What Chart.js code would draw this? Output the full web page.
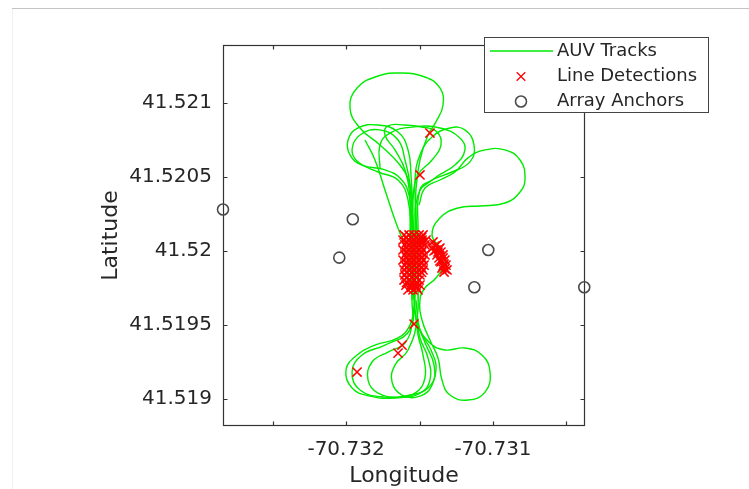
<!DOCTYPE html>
<html><head><meta charset="utf-8">
<script src="https://cdn.jsdelivr.net/npm/chart.js@4.4.1/dist/chart.umd.min.js"></script>
<style>html,body{margin:0;padding:0;background:#fff;}canvas{display:block;}</style>
</head><body>
<canvas id="c" width="749" height="489"></canvas>
<script>
// ---- axis ranges and ticks ----
const xMin = -70.732837, xMax = -70.730374;
const yMin = 41.518818, yMax = 41.521389;
const xTickValues = [-70.7325, -70.732, -70.7315, -70.731, -70.7305];
const xTickLabels = ['', '-70.732', '', '-70.731', ''];
const yTickValues = [41.519, 41.5195, 41.52, 41.5205, 41.521];
const yTickLabels = ['41.519', '41.5195', '41.52', '41.5205', '41.521'];
const xTitle = 'Longitude';
const yTitle = 'Latitude';
const legendLabels = ['AUV Tracks', 'Line Detections', 'Array Anchors'];

// ---- AUV tracks ----
const track1Lon = [-70.731544,-70.731544,-70.731551,-70.731565,-70.731633,-70.731769,-70.731905,-70.731973,-70.731925,-70.731782,-70.731633,-70.731463,-70.731361,-70.731340,-70.731388,-70.731442,-70.731497,-70.731524,-70.731531,-70.731531,-70.731537,-70.731565,-70.731646,-70.731803,-70.731925,-70.732000,-70.731959,-70.731837,-70.731667,-70.731531,-70.731463,-70.731476,-70.731510,-70.731531];
const track1Lat = [41.519736,41.520006,41.520276,41.520444,41.520579,41.520714,41.520829,41.520964,41.521099,41.521180,41.521200,41.521173,41.521099,41.520984,41.520870,41.520782,41.520613,41.520411,41.520141,41.519871,41.519634,41.519499,41.519412,41.519364,41.519297,41.519196,41.519074,41.519020,41.519007,41.519040,41.519142,41.519297,41.519432,41.519601];
const track2Lon = [-70.731551,-70.731551,-70.731558,-70.731571,-70.731633,-70.731735,-70.731891,-70.731973,-70.731986,-70.731918,-70.731782,-70.731646,-70.731578,-70.731558,-70.731544,-70.731537,-70.731531,-70.731544,-70.731599,-70.731714,-70.731823,-70.731850,-70.731782,-70.731633,-70.731497,-70.731429,-70.731442,-70.731497,-70.731517];
const track2Lat = [41.519668,41.519938,41.520208,41.520377,41.520492,41.520546,41.520579,41.520647,41.520748,41.520829,41.520849,41.520802,41.520681,41.520512,41.520242,41.519938,41.519668,41.519533,41.519378,41.519317,41.519250,41.519128,41.519040,41.519013,41.519040,41.519128,41.519277,41.519412,41.519547];
const track3Lon = [-70.731510,-70.731517,-70.731524,-70.731531,-70.731497,-70.731415,-70.731293,-70.731191,-70.731129,-70.731157,-70.731279,-70.731415,-70.731497,-70.731510,-70.731510,-70.731517,-70.731578,-70.731667,-70.731687,-70.731619,-70.731497,-70.731415,-70.731401,-70.731456,-70.731503];
const track3Lat = [41.519668,41.520006,41.520276,41.520478,41.520647,41.520768,41.520829,41.520816,41.520714,41.520600,41.520532,41.520478,41.520411,41.520141,41.519803,41.519533,41.519331,41.519229,41.519115,41.519027,41.519020,41.519094,41.519229,41.519364,41.519479];
const track4Lon = [-70.731565,-70.731565,-70.731599,-70.731667,-70.731735,-70.731714,-70.731599,-70.731483,-70.731381,-70.731354,-70.731415,-70.731510,-70.731544,-70.731551,-70.731551,-70.731565,-70.731735,-70.731891,-70.731959,-70.731905,-70.731735,-70.731565,-70.731442,-70.731388,-70.731422,-70.731497,-70.731524];
const track4Lat = [41.520073,41.520343,41.520546,41.520681,41.520782,41.520843,41.520849,41.520836,41.520802,41.520714,41.520613,41.520512,41.520343,41.520006,41.519668,41.519466,41.519364,41.519297,41.519182,41.519061,41.519013,41.519027,41.519074,41.519196,41.519331,41.519466,41.519668];
const track5Lon = [-70.731871,-70.731803,-70.731735,-70.731667,-70.731605,-70.731565,-70.731537,-70.731510,-70.731429,-70.731327,-70.731191,-70.731075,-70.731020,-70.731054,-70.731170,-70.731293,-70.731347,-70.731374,-70.731429,-70.731483,-70.731497,-70.731463,-70.731388,-70.731327,-70.731361,-70.731415,-70.731361,-70.731238,-70.731088,-70.730918,-70.730816,-70.730782,-70.730816,-70.730918,-70.731054,-70.731170,-70.731259,-70.731361,-70.731463,-70.731503];
const track5Lat = [41.520748,41.520613,41.520411,41.520208,41.520040,41.519871,41.519668,41.519499,41.519378,41.519331,41.519344,41.519297,41.519182,41.519047,41.518993,41.519027,41.519128,41.519277,41.519398,41.519533,41.519668,41.519749,41.519817,41.519925,41.520019,41.520107,41.520222,41.520289,41.520303,41.520323,41.520397,41.520492,41.520613,41.520681,41.520681,41.520627,41.520532,41.520478,41.520424,41.520310];
const track6Lon = [-70.731558,-70.731578,-70.731646,-70.731782,-70.731918,-70.731959,-70.731905,-70.731769,-70.731646,-70.731599,-70.731565,-70.731551];
const track6Lat = [41.520107,41.520343,41.520478,41.520532,41.520600,41.520681,41.520782,41.520816,41.520748,41.520613,41.520444,41.520107];
const track7Lon = [-70.731769,-70.731769,-70.731701,-70.731544,-70.731361,-70.731225,-70.731191,-70.731259,-70.731395,-70.731510,-70.731524];
const track7Lat = [41.520559,41.520714,41.520795,41.520836,41.520829,41.520762,41.520681,41.520579,41.520492,41.520377,41.520073];

// ---- line detections ----
const isoDetLon = [-70.731429,-70.731497,-70.731537,-70.731619,-70.731646,-70.731925];
const isoDetLat = [41.520795,41.520512,41.519506,41.519364,41.519310,41.519182];
const mainDetLon = [
 -70.731605,-70.731571,-70.731537,-70.731503,-70.731476,
 -70.731612,-70.731578,-70.731544,-70.731510,-70.731483,-70.731456,
 -70.731599,-70.731565,-70.731531,-70.731497,-70.731463,
 -70.731612,-70.731578,-70.731544,-70.731510,-70.731476,
 -70.731599,-70.731565,-70.731531,-70.731497,-70.731463,
 -70.731612,-70.731578,-70.731544,-70.731510,-70.731476,
 -70.731599,-70.731565,-70.731531,-70.731497,-70.731469,
 -70.731605,-70.731571,-70.731537,-70.731503,-70.731476,
 -70.731599,-70.731565,-70.731531,-70.731497,
 -70.731605,-70.731571,-70.731537,-70.731503,
 -70.731592,-70.731558,-70.731524,-70.731497,
 -70.731578,-70.731544,-70.731510];
const mainDetLat = [
 41.520107,41.520107,41.520107,41.520107,41.520107,
 41.520073,41.520073,41.520073,41.520073,41.520073,41.520073,
 41.520040,41.520040,41.520040,41.520040,41.520040,
 41.520006,41.520006,41.520006,41.520006,41.520006,
 41.519972,41.519972,41.519972,41.519972,41.519972,
 41.519938,41.519938,41.519938,41.519938,41.519938,
 41.519904,41.519904,41.519904,41.519904,41.519904,
 41.519871,41.519871,41.519871,41.519871,41.519871,
 41.519837,41.519837,41.519837,41.519837,
 41.519803,41.519803,41.519803,41.519803,
 41.519769,41.519769,41.519769,41.519769,
 41.519736,41.519736,41.519736];
const fillDetLon = [
 -70.731588,-70.731554,-70.731520,-70.731486,
 -70.731588,-70.731554,-70.731520,-70.731486,
 -70.731588,-70.731554,-70.731520,-70.731486,
 -70.731588,-70.731554,-70.731520,-70.731486,
 -70.731588,-70.731554,-70.731520,-70.731486,
 -70.731588,-70.731554,-70.731520,-70.731486,
 -70.731588,-70.731554,-70.731520,-70.731486,
 -70.731588,-70.731554,-70.731520,-70.731486,
 -70.731588,-70.731554,-70.731520,
 -70.731588,-70.731554,-70.731520,
 -70.731554,-70.731520];
const fillDetLat = [
 41.520090,41.520090,41.520090,41.520090,
 41.520056,41.520056,41.520056,41.520056,
 41.520023,41.520023,41.520023,41.520023,
 41.519989,41.519989,41.519989,41.519989,
 41.519955,41.519955,41.519955,41.519955,
 41.519921,41.519921,41.519921,41.519921,
 41.519888,41.519888,41.519888,41.519888,
 41.519854,41.519854,41.519854,41.519854,
 41.519820,41.519820,41.519820,
 41.519786,41.519786,41.519786,
 41.519753,41.519753];
const sideDetLon = [-70.731408,-70.731381,-70.731415,-70.731361,-70.731388,-70.731354,-70.731381,-70.731340,-70.731367,-70.731327,-70.731354,-70.731320,-70.731347,-70.731313,-70.731333,
 -70.731395,-70.731367,-70.731401,-70.731374,-70.731340,-70.731361,-70.731333,-70.731340,-70.731327];
const sideDetLat = [41.520060,41.520040,41.520019,41.520019,41.520006,41.519992,41.519972,41.519972,41.519952,41.519938,41.519925,41.519904,41.519884,41.519871,41.519857,
 41.520033,41.520013,41.519999,41.519992,41.519952,41.519932,41.519911,41.519898,41.519878];

// ---- array anchors ----
const anchorLon = [-70.732837,-70.731954,-70.732046,-70.731032,-70.731127,-70.730379];
const anchorLat = [41.520279,41.520213,41.519954,41.520006,41.519754,41.519754];

// ---- styles ----
const GREEN = 'rgb(0,235,0)';
const RED = 'rgb(255,0,0)';
const GRAY = '#4a4a4a';
const TEXT = '#262626';
const FONT = 'DejaVu Sans';

function pts(lons, lats){ return lons.map((v,i)=>({x:v, y:lats[i]})); }

const tracks = [[track1Lon,track1Lat],[track2Lon,track2Lat],[track3Lon,track3Lat],[track4Lon,track4Lat],[track5Lon,track5Lat],[track6Lon,track6Lat],[track7Lon,track7Lat]];
const datasets = tracks.map(t => ({
  data: pts(t[0], t[1]), showLine: true, borderColor: GREEN, borderWidth: 1.4,
  pointRadius: 0, tension: 0.45, fill: false, order: 3
}));
datasets.push({
  data: pts(isoDetLon.concat(mainDetLon, fillDetLon, sideDetLon), isoDetLat.concat(mainDetLat, fillDetLat, sideDetLat)),
  showLine: false, pointStyle: 'crossRot', pointRadius: 6.5, borderColor: RED, borderWidth: 1.5,
  backgroundColor: RED, order: 2
});
datasets.push({
  data: pts(anchorLon, anchorLat), showLine: false, pointStyle: 'circle', pointRadius: 5.5,
  borderColor: GRAY, borderWidth: 1.6, backgroundColor: 'rgba(0,0,0,0)', order: 1, clip: false
});

const framePlugin = {
  id: 'frame',
  beforeDatasetsDraw(chart){
    const ctx = chart.ctx, a = chart.chartArea;
    const xs = chart.scales.x, ys = chart.scales.y;
    ctx.save();
    ctx.strokeStyle = '#333'; ctx.lineWidth = 1.2;
    ctx.strokeRect(Math.round(a.left)+0.5, Math.round(a.top)+0.5, Math.round(a.right-a.left)-1, Math.round(a.bottom-a.top)-1);
    ctx.beginPath();
    const tl = 4.5;
    xs.ticks.forEach(t => {
      const px = Math.round(xs.getPixelForValue(t.value))+0.5;
      ctx.moveTo(px, a.bottom); ctx.lineTo(px, a.bottom - tl);
      ctx.moveTo(px, a.top); ctx.lineTo(px, a.top + tl);
    });
    ys.ticks.forEach(t => {
      const py = Math.round(ys.getPixelForValue(t.value))+0.5;
      ctx.moveTo(a.left, py); ctx.lineTo(a.left + tl, py);
      ctx.moveTo(a.right, py); ctx.lineTo(a.right - tl, py);
    });
    ctx.stroke();
    ctx.restore();
  },
  afterDraw(chart){
    const ctx = chart.ctx;
    ctx.save();
    ctx.strokeStyle = '#c4c4c4'; ctx.lineWidth = 1;
    ctx.beginPath(); ctx.moveTo(12, 8.5); ctx.lineTo(749, 8.5); ctx.stroke();
    ctx.strokeStyle = '#f0f0f0';
    ctx.beginPath(); ctx.moveTo(12.5, 9); ctx.lineTo(12.5, 489); ctx.stroke();
    const bx = 484.5, by = 37.5, bw = 224, bh = 75;
    ctx.fillStyle = '#fff'; ctx.fillRect(bx, by, bw, bh);
    ctx.strokeStyle = '#444'; ctx.lineWidth = 1; ctx.strokeRect(bx, by, bw, bh);
    const rows = [51, 76.5, 101.5];
    ctx.strokeStyle = GREEN; ctx.lineWidth = 1.4;
    ctx.beginPath(); ctx.moveTo(490, rows[0]); ctx.lineTo(553, rows[0]); ctx.stroke();
    ctx.strokeStyle = RED; ctx.lineWidth = 1.3;
    const d = 4.3, cx = 521;
    ctx.beginPath();
    ctx.moveTo(cx-d, rows[1]-d); ctx.lineTo(cx+d, rows[1]+d);
    ctx.moveTo(cx-d, rows[1]+d); ctx.lineTo(cx+d, rows[1]-d);
    ctx.stroke();
    ctx.strokeStyle = GRAY; ctx.lineWidth = 1.6;
    ctx.beginPath(); ctx.arc(cx, rows[2], 5.5, 0, Math.PI*2); ctx.stroke();
    ctx.fillStyle = TEXT; ctx.font = '18px "' + FONT + '"'; ctx.textBaseline = 'middle'; ctx.textAlign = 'left';
    legendLabels.forEach((l, i) => ctx.fillText(l, 557, rows[i]));
    ctx.restore();
  }
};

new Chart(document.getElementById('c'), {
  type: 'scatter',
  data: { datasets },
  options: {
    responsive: false, animation: false, devicePixelRatio: 1,
    layout: { padding: { left: 98, right: 164, top: 45, bottom: 0 } },
    plugins: { legend: { display: false }, tooltip: { enabled: false } },
    scales: {
      x: {
        type: 'linear', min: xMin, max: xMax,
        afterBuildTicks(s){ s.ticks = xTickValues.map(v => ({ value: v })); },
        afterFit(s){ s.height = 63; },
        grid: { display: false, drawTicks: false }, border: { display: false },
        ticks: { autoSkip: false, maxRotation: 0, padding: 12, color: TEXT,
                 font: { family: FONT, size: 20 }, callback: (v, i) => xTickLabels[i] },
        title: { display: true, text: xTitle, color: TEXT, font: { family: FONT, size: 22 }, padding: 0 }
      },
      y: {
        type: 'linear', min: yMin, max: yMax,
        afterBuildTicks(s){ s.ticks = yTickValues.map(v => ({ value: v })); },
        afterFit(s){ s.width = 125; },
        grid: { display: false, drawTicks: false }, border: { display: false },
        ticks: { autoSkip: false, padding: 11, color: TEXT,
                 font: { family: FONT, size: 20 }, callback: (v, i) => yTickLabels[i] },
        title: { display: true, text: yTitle, color: TEXT, font: { family: FONT, size: 22 }, padding: 0 }
      }
    }
  },
  plugins: [framePlugin]
});
</script>
</body></html>
